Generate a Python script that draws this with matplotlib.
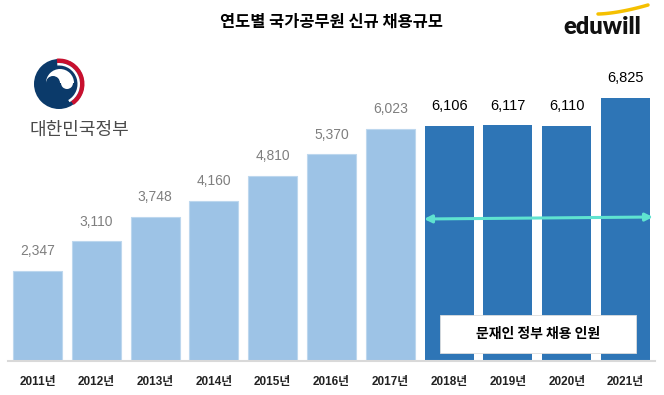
import matplotlib
matplotlib.use('Agg')
import matplotlib.pyplot as plt
from matplotlib.patches import Wedge, Circle, Rectangle
import numpy as np

plt.rcParams['font.family'] = ['Liberation Sans', 'Noto Sans CJK KR', 'DejaVu Sans']

# %% data
years = ['2011년', '2012년', '2013년', '2014년', '2015년', '2016년', '2017년',
         '2018년', '2019년', '2020년', '2021년']
hires = [2347, 3110, 3748, 4160, 4810, 5370, 6023, 6106, 6117, 6110, 6825]
n_before = 7  # 2011-2017 before the Moon government

title = '연도별 국가공무원 신규 채용규모'
box_label = '문재인 정부 채용 인원'

light = '#9dc3e6'
dark = '#2e75b6'

# %% figure
fig = plt.figure(figsize=(6.64, 3.95), dpi=100)
ax = fig.add_axes([8.1 / 664, 1 - 361 / 395, 646.8 / 664, 361 / 395])
ax.patch.set_alpha(0)

x = np.arange(len(years))
b1 = ax.bar(x[:n_before], hires[:n_before], width=0.83, color=light,
            edgecolor='#bdd7ee', lw=0.8)
b2 = ax.bar(x[n_before:], hires[n_before:], width=0.83, color=dark)
ax.bar_label(b1, labels=[f'{v:,}' for v in hires[:n_before]], padding=9,
             fontsize=10, color='#7f7f7f')
ax.bar_label(b2, labels=[f'{v:,}' for v in hires[n_before:]], padding=9,
             fontsize=10.5, color='black')

ax.set_xlim(-0.5, len(years) - 0.5)
ax.set_ylim(0, 6825 * 361 / 263)
ax.set_xticks(x)
ax.set_xticklabels(years, fontsize=8.5, fontweight='bold', color='#222222')
ax.tick_params(axis='x', length=0, pad=11)
ax.set_yticks([])
for s in ['top', 'right', 'left']:
    ax.spines[s].set_visible(False)
ax.spines['bottom'].set_color('#d9d9d9')
ax.spines['bottom'].set_linewidth(1.5)

# %% decorations in pixel coordinates (y grows downward)
ov = fig.add_axes([0, 0, 1, 1])
ov.set_xlim(0, 664)
ov.set_ylim(395, 0)
ov.axis('off')
ov.patch.set_alpha(0)

ov.text(332, 22, title, ha='center', va='center', fontsize=11.8,
        fontweight='bold', family=['Noto Sans CJK KR'])

# eduwill logo
ov.text(602, 34, 'eduwill', ha='center', va='baseline', fontsize=17,
        fontweight='heavy', family=['Lato', 'DejaVu Sans'], color='#111111')
t = np.linspace(0, 1, 30)
ov.plot(598 + 50 * t, 14 - 9 * t ** 1.6, color='#f5c000', lw=2.5,
        solid_capstyle='round')

# government emblem (rough taegeuk swirl)
navy = '#0b3a6a'
cx, cy = 59, 84
ov.add_patch(Circle((cx, cy), 25, color=navy, lw=0))
ov.add_patch(Wedge((cx, cy), 25.5, -95, 55, width=4.5, color='#c8102e', lw=0))
ov.add_patch(Wedge((cx, cy), 21, -95, 60, width=2.5, color='white', lw=0))
ov.add_patch(Wedge((cx + 1, cy - 1), 14, 180, 360, color='white', lw=0))
ov.add_patch(Circle((cx - 6, cy - 1), 7, color=navy, lw=0))
ov.add_patch(Circle((cx + 8, cy - 1), 6, color='white', lw=0))
ov.text(79, 130, '대한민국정부', ha='center', va='center', fontsize=13,
        family=['Noto Sans CJK KR'], color='#4a4a4a')

# arrow across the Moon government years
ov.annotate('', xy=(653, 217), xytext=(424, 219),
            arrowprops=dict(arrowstyle='<|-|>', color='#5fe3d0', lw=2.2,
                            mutation_scale=11, shrinkA=0, shrinkB=0))

# label box
ov.add_patch(Rectangle((440, 315), 196, 38, facecolor='white',
                       edgecolor='#dddddd', lw=0.6, zorder=3))
ov.text(538, 334, box_label, ha='center', va='center', fontsize=10,
        fontweight='bold', family=['Noto Sans CJK KR'], zorder=4)

fig.savefig('out.png', dpi=100)
